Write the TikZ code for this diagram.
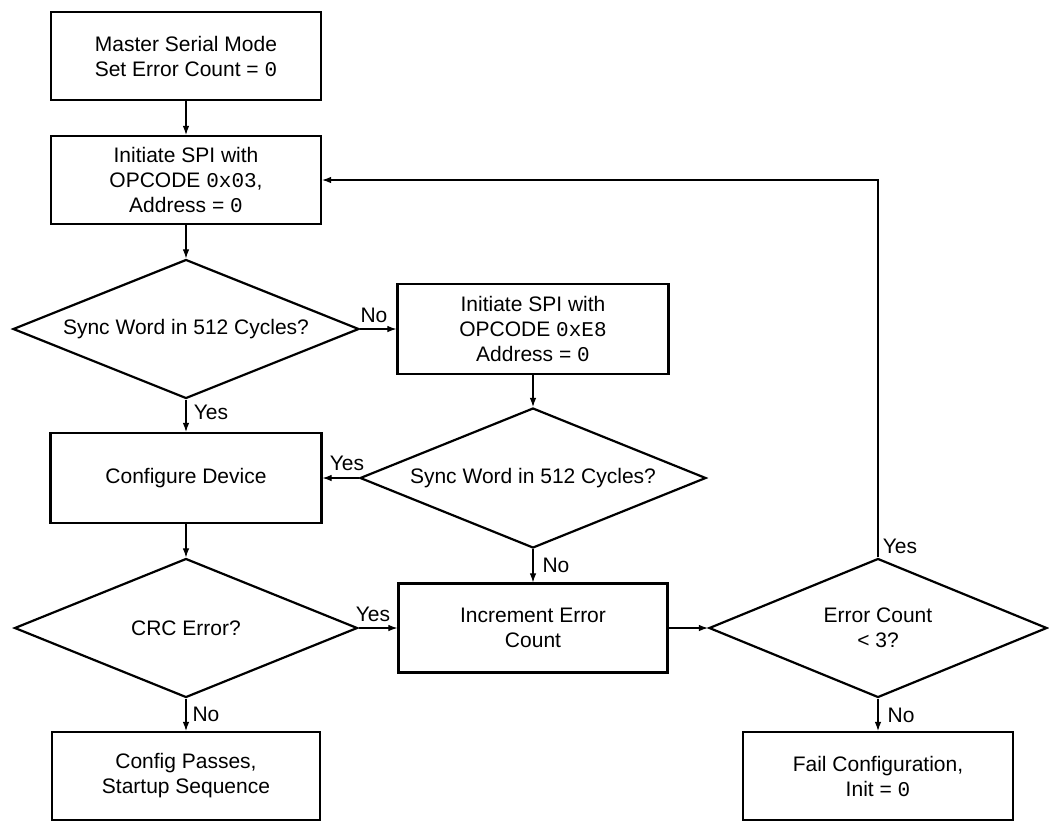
\documentclass[tikz,border=0pt]{standalone}
\usepackage{fontspec}
\setmainfont{Liberation Sans}
\newfontfamily\cour{Liberation Mono}
\usetikzlibrary{shapes.geometric,arrows.meta}
\begin{document}
\begin{tikzpicture}[x=1pt,y=-1pt,
  every node/.style={font=\fontsize{21}{25}\selectfont},
  procbox/.style={draw,line width=2.2pt,align=center,inner sep=0pt},
  decis/.style={draw,diamond,line width=2.2pt,align=center,inner sep=0pt,aspect=2.5},
  conn/.style={line width=1.1pt,-{Latex[length=9pt,width=6.5pt]}},
  lbl/.style={inner sep=0pt}]
\useasboundingbox (0,0) rectangle (1049,823);
% process boxes
\node[procbox,minimum width=270pt,minimum height=88pt] (b1) at (186,56) {Master Serial Mode\\Set Error Count = {\cour 0}};
\node[procbox,minimum width=270pt,minimum height=88pt] (b2) at (186,180) {Initiate SPI with\\OPCODE {\cour 0x03},\\Address = {\cour 0}};
\node[procbox,minimum width=271pt,minimum height=90pt] (b3) at (533,329) {Initiate SPI with\\OPCODE {\cour 0xE8}\\Address = {\cour 0}};
\node[procbox,minimum width=271pt,minimum height=90pt] (b4) at (186,478) {Configure Device};
\node[procbox,minimum width=269pt,minimum height=89pt] (b5) at (533,628) {Increment Error\\Count};
\node[procbox,minimum width=268pt,minimum height=88pt] (b6) at (186,776) {Config Passes,\\Startup Sequence};
\node[procbox,minimum width=270pt,minimum height=88pt] (b7) at (878,776) {Fail Configuration,\\Init = {\cour 0}};
% decisions
\node[decis,minimum width=346pt,minimum height=139pt] (d1) at (186,329) {Sync Word in 512 Cycles?};
\node[decis,minimum width=346pt,minimum height=140pt] (d2) at (533,478) {Sync Word in 512 Cycles?};
\node[decis,minimum width=343pt,minimum height=139pt] (d3) at (186,628) {CRC Error?};
\node[decis,minimum width=338pt,minimum height=139pt] (d4) at (878,628) {Error Count\\< 3?};
% connectors
\draw[conn] (b1) -- (b2);
\draw[conn] (b2) -- (d1);
\draw[conn] (d1.east) -- (b3.west);
\draw[conn] (b3) -- (d2);
\draw[conn] (d1) -- (b4);
\draw[conn] (d2.west) -- (b4.east);
\draw[conn] (b4) -- (d3);
\draw[conn] (d2) -- (b5);
\draw[conn] (d3.east) -- (b5.west);
\draw[conn] (b5.east) -- (d4.west);
\draw[conn] (d3) -- (b6);
\draw[conn] (d4) -- (b7);
\draw[conn] (d4.north) |- (b2.east);
% labels
\node[lbl] (l1) at (374,315) {No};
\node[lbl] (l2) at (211,412) {Yes};
\node[lbl] (l3) at (347,463) {Yes};
\node[lbl] (l4) at (556,565) {No};
\node[lbl] (l5) at (373,614) {Yes};
\node[lbl] (l6) at (206,714) {No};
\node[lbl] (l7) at (900,546) {Yes};
\node[lbl] (l8) at (901,715) {No};
\end{tikzpicture}
\end{document}
